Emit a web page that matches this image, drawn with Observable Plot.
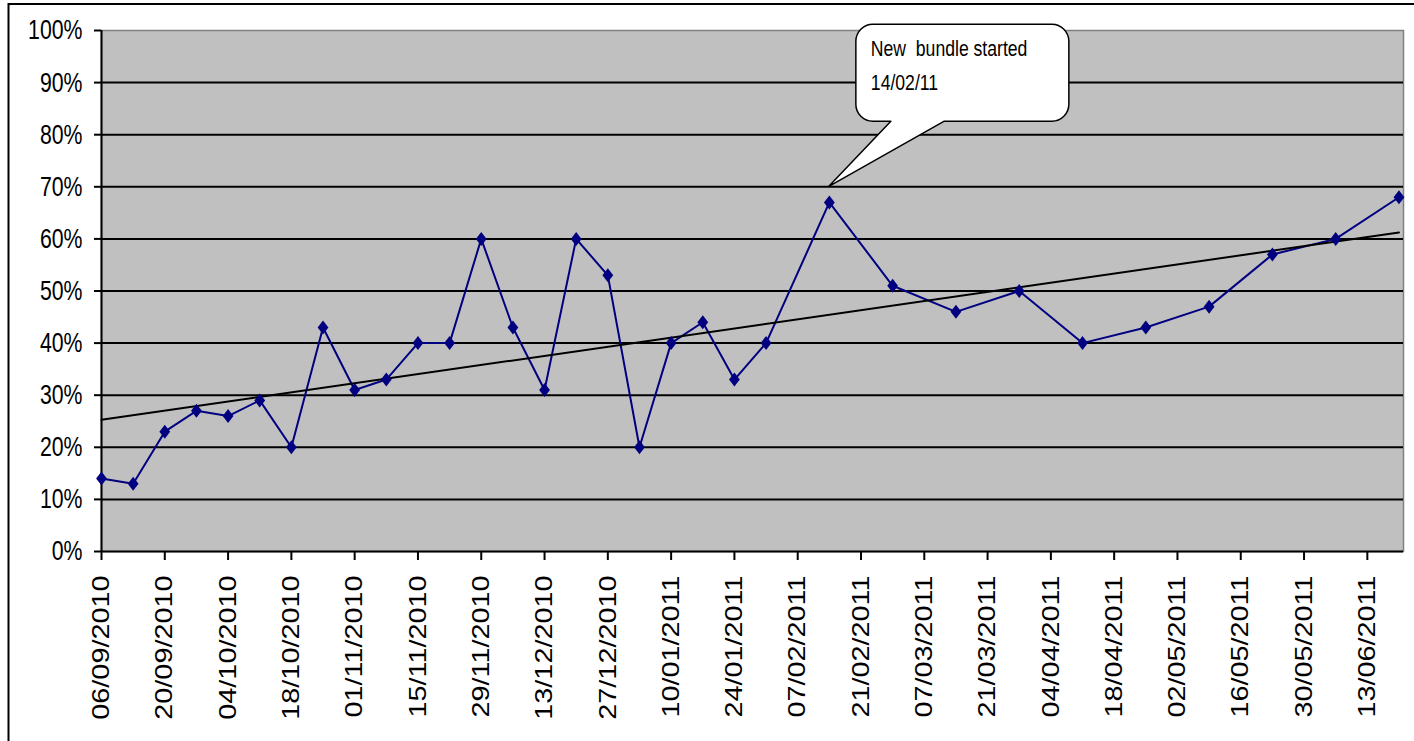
<!DOCTYPE html>
<html>
<head>
<meta charset="utf-8">
<script src="https://cdn.jsdelivr.net/npm/d3@7"></script>
<script src="https://cdn.jsdelivr.net/npm/@observablehq/plot@0.6"></script>
<style>
  body { margin: 0; background: #fff; }
  svg { display: block; }
  .note-text { white-space: pre; }
</style>
</head>
<body>
<div id="chart"></div>
<script>
// Weekly share readings (%), weekly until the end of January, fortnightly afterwards
const weekDates = [
  "2010-09-06","2010-09-13","2010-09-20","2010-09-27","2010-10-04","2010-10-11",
  "2010-10-18","2010-10-25","2010-11-01","2010-11-08","2010-11-15","2010-11-22",
  "2010-11-29","2010-12-06","2010-12-13","2010-12-20","2010-12-27","2011-01-03",
  "2011-01-10","2011-01-17","2011-01-24","2011-01-31","2011-02-14","2011-02-28",
  "2011-03-14","2011-03-28","2011-04-11","2011-04-25","2011-05-09","2011-05-23",
  "2011-06-06","2011-06-20"
];
const shares = [
  14, 13, 23, 27, 26, 29,
  20, 43, 31, 33, 40, 40,
  60, 43, 31, 60, 53, 20,
  40, 44, 33, 40, 67, 51,
  46, 50, 40, 43, 47, 57,
  60, 68
];

// Axis ticks
const tickDates = [
  "2010-09-06","2010-09-20","2010-10-04","2010-10-18","2010-11-01","2010-11-15",
  "2010-11-29","2010-12-13","2010-12-27","2011-01-10","2011-01-24","2011-02-07",
  "2011-02-21","2011-03-07","2011-03-21","2011-04-04","2011-04-18","2011-05-02",
  "2011-05-16","2011-05-30","2011-06-13"
];
const yTicks = [0, 10, 20, 30, 40, 50, 60, 70, 80, 90, 100];
const gridLevels = [10, 20, 30, 40, 50, 60, 70, 80, 90];
const axisStart = "2010-09-06";
const axisEnd = "2011-06-21";

// Callout
const noteDate = "2011-02-14";
const noteLevel = 70;
const noteLines = ["New  bundle started", "14/02/11"];

const parse = d3.utcParse("%Y-%m-%d");
const rows = weekDates.map((d, i) => ({date: parse(d), share: shares[i]}));
const navy = "#000080";

// Slightly tall diamond marker
const diamond = {
  draw(ctx) {
    const w = 5.4, h = 7;
    ctx.moveTo(0, -h);
    ctx.lineTo(w, 0);
    ctx.lineTo(0, h);
    ctx.lineTo(-w, 0);
    ctx.closePath();
  }
};

// Outer chart border (left and top edges)
function chartBorder(index, scales, values, dims) {
  const g = d3.create("svg:g");
  g.append("path")
    .attr("d", `M8.5,${dims.height} V4 H${dims.width}`)
    .attr("fill", "none")
    .attr("stroke", "black")
    .attr("stroke-width", 2);
  return g.node();
}

// Speech-bubble callout pointing at the bundle start
function callout(index, scales, values, dims) {
  const tx = scales.x(parse(noteDate));
  const ty = scales.y(noteLevel);
  const L = tx + 27, R = tx + 240, T = ty - 162, B = ty - 65, r = 17;
  const a = tx + 62, b = tx + 115;
  const d = `M${L + r},${T} H${R - r} A${r},${r} 0 0 1 ${R},${T + r} V${B - r}`
    + ` A${r},${r} 0 0 1 ${R - r},${B} H${b} L${tx},${ty} L${a},${B} H${L + r}`
    + ` A${r},${r} 0 0 1 ${L},${B - r} V${T + r} A${r},${r} 0 0 1 ${L + r},${T} Z`;
  const g = d3.create("svg:g");
  g.append("path")
    .attr("d", d)
    .attr("fill", "white")
    .attr("stroke", "black")
    .attr("stroke-width", 1.5)
    .attr("stroke-linejoin", "round");
  noteLines.forEach((line, i) => {
    g.append("text")
      .attr("class", "note-text")
      .attr("x", tx + 42)
      .attr("y", ty - 130 + i * 34)
      .attr("font-size", 22)
      .attr("text-anchor", "start")
      .attr("fill", "black")
      .text(line);
  });
  return g.node();
}

const svg = Plot.plot({
  width: 1414,
  height: 741,
  marginLeft: 101,
  marginRight: 11,
  marginTop: 30,
  marginBottom: 190,
  style: {
    fontFamily: "'Liberation Sans', Arial, sans-serif",
    background: "white",
    color: "black",
    overflow: "visible"
  },
  x: {type: "utc", domain: [parse(axisStart), parse(axisEnd)], label: null},
  y: {domain: [0, 100], label: null},
  marks: [
    chartBorder,
    Plot.frame({fill: "#c0c0c0", stroke: "#808080", strokeWidth: 1.5}),
    Plot.ruleY(gridLevels, {stroke: "black", strokeWidth: 2}),
    Plot.ruleY([0], {stroke: "black", strokeWidth: 2}),
    Plot.ruleX([parse(axisStart)], {stroke: "black", strokeWidth: 2}),
    Plot.axisY(yTicks, {
      tickFormat: d => d + "%",
      tickSize: 7,
      tickPadding: 12,
      fontSize: 28,
      strokeWidth: 2,
      label: null
    }),
    Plot.axisX(tickDates.map(parse), {
      tickFormat: d3.utcFormat("%d/%m/%Y"),
      tickRotate: -90,
      tickSize: 9,
      tickPadding: 15,
      fontSize: 24,
      strokeWidth: 2,
      label: null
    }),
    Plot.line(rows, {x: "date", y: "share", stroke: navy, strokeWidth: 2}),
    Plot.linearRegressionY(rows, {x: "date", y: "share", stroke: "black", strokeWidth: 2, ci: 0}),
    Plot.dot(rows, {x: "date", y: "share", symbol: diamond, r: 7, fill: navy, stroke: "none"}),
    callout
  ]
});

document.getElementById("chart").append(svg);

// Narrow or widen text runs to the chart's condensed lettering
function squeeze(selector, k) {
  svg.querySelectorAll(selector).forEach(t => {
    const n = t.getComputedTextLength();
    t.setAttribute("textLength", (n * k).toFixed(1));
    t.setAttribute("lengthAdjust", "spacingAndGlyphs");
  });
}
squeeze('[aria-label="y-axis tick label"] text', 0.76);
squeeze('[aria-label="x-axis tick label"] text', 1.2);
squeeze(".note-text", 0.8);
</script>
</body>
</html>
